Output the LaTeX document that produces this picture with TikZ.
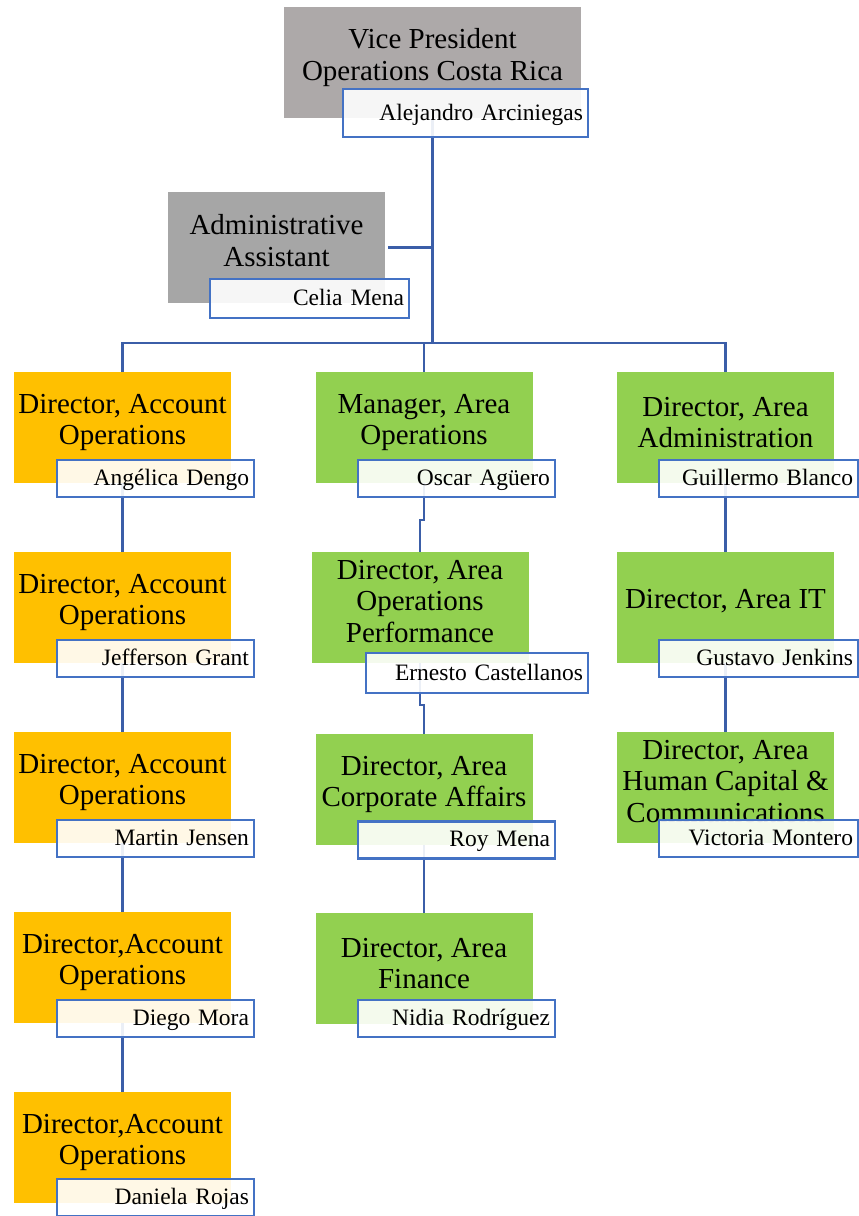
\documentclass[tikz,border=0pt]{standalone}
\usepackage{fontspec}
\setmainfont{Liberation Serif}
\definecolor{acctorange}{HTML}{FFC000}
\definecolor{areagreen}{HTML}{92D050}
\definecolor{vpgray}{HTML}{ADA9A9}
\definecolor{asstgray}{HTML}{A6A6A6}
\definecolor{nameblue}{HTML}{4472C4}
\definecolor{linkblue}{HTML}{3B5EA8}
\begin{document}
\begin{tikzpicture}[x=1pt, y=-1pt,
    role/.style={rectangle, minimum width=217pt, minimum height=111pt, inner sep=0pt},
    roletext/.style={font=\fontsize{29}{31.5}\selectfont, align=center, inner sep=0pt},
    person/.style={rectangle, draw=nameblue, line width=2.4pt, fill=white, fill opacity=0.9, text opacity=1, font=\fontsize{23.5}{26}\selectfont, align=right, minimum height=37pt, inner xsep=5pt, inner ysep=0pt, text depth=2pt},
    link/.style={draw=linkblue, line width=2.4pt}
]
\useasboundingbox (0,0) rectangle (859,1216);

% Role boxes
\node[role, fill=vpgray, minimum width=297pt] (vp) at (432.5,62.5) {};
\node[roletext] (vpt) at ([yshift=5pt]vp.center) {Vice President\\Operations Costa Rica};
\node[role, fill=asstgray] (asst) at (276.5,247.5) {};
\node[roletext] (asstt) at ([yshift=7pt]asst.center) {Administrative\\Assistant};

% Account operations (left column)
\node[role, fill=acctorange] (d1) at (122.5,427.5) {};
\node[roletext] (d1t) at ([yshift=5pt]d1.center) {Director, Account\\Operations};
\node[role, fill=acctorange] (d2) at (122.5,607.5) {};
\node[roletext] (d2t) at ([yshift=5pt]d2.center) {Director, Account\\Operations};
\node[role, fill=acctorange] (d3) at (122.5,787.5) {};
\node[roletext] (d3t) at ([yshift=5pt]d3.center) {Director, Account\\Operations};
\node[role, fill=acctorange] (d4) at (122.5,967.5) {};
\node[roletext] (d4t) at ([yshift=5pt]d4.center) {Director,Account\\Operations};
\node[role, fill=acctorange] (d5) at (122.5,1147.5) {};
\node[roletext] (d5t) at ([yshift=5pt]d5.center) {Director,Account\\Operations};

% Area operations (middle column)
\node[role, fill=areagreen] (m1) at (424,427.5) {};
\node[roletext] (m1t) at ([yshift=5pt]m1.center) {Manager, Area\\Operations};
\node[role, fill=areagreen] (m2) at (420,607.5) {};
\node[roletext] (m2t) at ([yshift=6pt]m2.center) {Director, Area\\Operations\\Performance};
\node[role, fill=areagreen] (m3) at (424,789.5) {};
\node[roletext] (m3t) at ([yshift=5pt]m3.center) {Director, Area\\Corporate Affairs};
\node[role, fill=areagreen] (m4) at (424,968.5) {};
\node[roletext] (m4t) at ([yshift=5pt]m4.center) {Director, Area\\Finance};

% Area administration (right column)
\node[role, fill=areagreen] (r1) at (725.5,427.5) {};
\node[roletext] (r1t) at ([yshift=5pt]r1.center) {Director, Area\\Administration};
\node[role, fill=areagreen] (r2) at (725.5,607.5) {};
\node[roletext] (r2t) at ([yshift=6pt]r2.center) {Director, Area IT};
\node[role, fill=areagreen] (r3) at (725.5,787.5) {};
\node[roletext] (r3t) at ([yshift=6pt]r3.center) {Director, Area\\Human Capital \&\\Communications};

% Connectors
\coordinate (hub) at (432.5,343);
\draw[link] (vp.south) -- (hub);
\draw[link] ([xshift=3pt]asst.east) -- (asst.east -| hub);
\draw[link] (d1.north) |- (hub) -| (r1.north);
\draw[link] (m1.north) -- (m1.north |- hub);
\draw[link] (d1.south) -- (d2.north);
\draw[link] (d2.south) -- (d3.north);
\draw[link] (d3.south) -- (d4.north);
\draw[link] (d4.south) -- (d5.north);
\draw[link] (m1.south) -- ++(0,37) -| (m2.north);
\draw[link] (m2.south) -- ++(0,42) -| (m3.north);
\draw[link] (m3.south) -- (m4.north);
\draw[link] (r1.south) -- (r2.north);
\draw[link] (r2.south) -- (r3.north);

% Name boxes
\node[person, text width=235pt, minimum height=48pt] (vpn) at (465.5,113) {Alejandro Arciniegas};
\node[person, text width=189pt, minimum height=39pt] (asstn) at (309.5,298.5) {Celia Mena};
\node[person, text width=187pt] (d1n) at (155.5,478.5) {Angélica Dengo};
\node[person, text width=187pt] (d2n) at (155.5,658.5) {Jefferson Grant};
\node[person, text width=187pt] (d3n) at (155.5,838.5) {Martin Jensen};
\node[person, text width=187pt] (d4n) at (155.5,1018.5) {Diego Mora};
\node[person, text width=187pt] (d5n) at (155.5,1197.5) {Daniela Rojas};
\node[person, text width=187pt] (m1n) at (456.5,478.5) {Oscar Agüero};
\node[person, text width=212pt, minimum height=40pt] (m2n) at (477,673) {Ernesto Castellanos};
\node[person, text width=187pt] (m3n) at (456.5,840) {Roy Mena};
\node[person, text width=187pt] (m4n) at (456.5,1018.5) {Nidia Rodríguez};
\node[person, text width=189pt] (r1n) at (758.5,478.5) {Guillermo Blanco};
\node[person, text width=189pt] (r2n) at (758.5,658.5) {Gustavo Jenkins};
\node[person, text width=189pt] (r3n) at (758.5,838.5) {Victoria Montero};

\end{tikzpicture}
\end{document}
